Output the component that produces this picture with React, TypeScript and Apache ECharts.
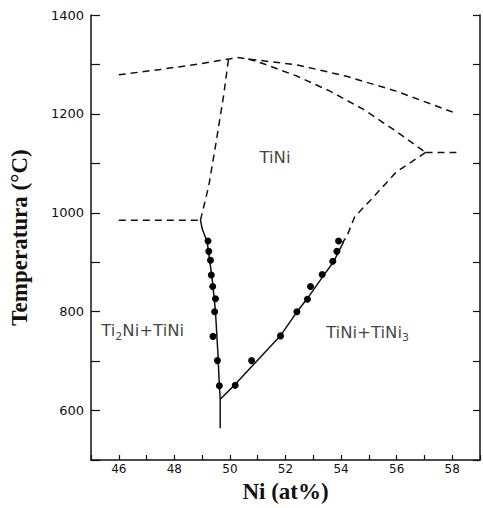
import React, { useEffect, useRef } from "react";
import * as echarts from "echarts";

// Liquidus (upper dashed curve)
const liquidus: [number, number][] = [
  [46, 1279], [47.5, 1290], [48.9, 1301], [49.95, 1311], [50.3, 1314],
  [50.66, 1311], [52.43, 1299], [54.2, 1276], [55.98, 1246], [58.1, 1202],
];
// Solidus of TiNi on Ni-rich side (dashed)
const solidusRight: [number, number][] = [
  [50.66, 1311], [51.13, 1303], [52.43, 1276], [53.6, 1246], [54.81, 1209],
  [55.98, 1165], [57.04, 1122],
];
// Eutectic horizontal at right
const eutecticRight: [number, number][] = [[57.04, 1122], [58.15, 1122]];
// Ni-rich solvus, dashed part
const solvusRightDashed: [number, number][] = [
  [57.04, 1122], [55.98, 1082], [55.1, 1028], [54.49, 992], [54.2, 951], [54.05, 940],
];
// Ni-rich solvus, solid part
const solvusRightSolid: [number, number][] = [
  [54.09, 941], [53.73, 901], [53.38, 874], [52.79, 827], [52.43, 801],
  [51.84, 753], [50.19, 653], [49.65, 623],
];
// Ti-rich solvus, solid
const solvusLeftSolid: [number, number][] = [
  [48.94, 985], [49.0, 968], [49.18, 941], [49.36, 867], [49.48, 800],
  [49.57, 713], [49.62, 650], [49.65, 623], [49.65, 564],
];
// Eutectic horizontal at left (dashed)
const eutecticLeft: [number, number][] = [[46, 985], [48.94, 985]];
// Ti-rich solidus of TiNi (dashed)
const solidusLeft: [number, number][] = [
  [48.94, 985], [49.24, 1055], [49.48, 1135], [49.77, 1236], [49.95, 1311],
];
// Measured points
const pointsLeft: [number, number][] = [
  [49.21, 943], [49.24, 922], [49.3, 904], [49.33, 874], [49.38, 851],
  [49.48, 826], [49.45, 800], [49.39, 750], [49.55, 701], [49.62, 650],
];
const pointsRight: [number, number][] = [
  [53.91, 943], [53.85, 922], [53.7, 902], [53.32, 875], [52.9, 851],
  [52.79, 825], [52.41, 800], [51.82, 751], [50.78, 701], [50.19, 651],
];
// Phase region labels
const regionLabels: { value: [number, number]; text: string }[] = [
  { value: [51.62, 1112], text: "TiNi" },
  { value: [46.86, 761], text: "Ti{s|2}Ni+TiNi" },
  { value: [54.95, 758], text: "TiNi+TiNi{s|3}" },
];

const INK = "#111";

export default function App() {
  const ref = useRef<HTMLDivElement>(null);
  useEffect(() => {
    document.body.style.margin = "0";
    const chart = echarts.init(ref.current!, undefined, { renderer: "svg" });
    const dashed = { color: INK, width: 1.5, type: [7, 5] as any };
    const solid = { color: INK, width: 1.5, type: "solid" as any };
    const lineSeries = (data: [number, number][], style: any) => ({
      type: "line",
      data,
      showSymbol: false,
      symbol: "none",
      lineStyle: style,
      silent: true,
      z: 2,
    });
    chart.setOption({
      animation: false,
      backgroundColor: "#fff",
      grid: { left: 90, top: 15, right: -2, bottom: 46 },
      xAxis: {
        type: "value",
        min: 45,
        max: 59,
        interval: 1,
        name: "Ni (at%)",
        nameLocation: "middle",
        nameGap: 20,
        nameTextStyle: {
          fontFamily: "Liberation Serif",
          fontWeight: "bold",
          fontSize: 23,
          color: INK,
        },
        axisLine: { lineStyle: { color: INK, width: 1.5 } },
        axisTick: { inside: true, length: 5, lineStyle: { color: INK, width: 1.2 } },
        splitLine: { show: false },
        axisLabel: {
          margin: 3,
          fontFamily: "DejaVu Sans",
          fontSize: 12,
          color: INK,
          formatter: (v: number) => (v % 2 === 0 && v >= 46 && v <= 58 ? String(v) : ""),
        },
      },
      yAxis: [
        {
          type: "value",
          min: 500,
          max: 1400,
          interval: 100,
          name: "Temperatura (°C)",
          nameLocation: "middle",
          nameGap: 60,
          nameTextStyle: {
            fontFamily: "Liberation Serif",
            fontWeight: "bold",
            fontSize: 23,
            color: INK,
          },
          axisLine: { show: true, lineStyle: { color: INK, width: 1.5 } },
          axisTick: { show: true, inside: true, length: 9, lineStyle: { color: INK, width: 1.2 } },
          splitLine: { show: false },
          axisLabel: {
            margin: 7,
            fontFamily: "DejaVu Sans",
            fontSize: 13,
            color: INK,
            formatter: (v: number) => (v % 200 === 0 && v >= 600 ? String(v) : ""),
          },
        },
        {
          type: "value",
          position: "right",
          min: 500,
          max: 1400,
          interval: 100,
          axisLine: { show: true, lineStyle: { color: INK, width: 1.5 } },
          axisTick: { show: true, inside: true, length: 7, lineStyle: { color: INK, width: 1.2 } },
          axisLabel: { show: false },
          splitLine: { show: false },
        },
      ],
      series: [
        lineSeries(liquidus, dashed),
        lineSeries(solidusRight, dashed),
        lineSeries(eutecticRight, dashed),
        lineSeries(solvusRightDashed, dashed),
        lineSeries(solvusRightSolid, solid),
        lineSeries(solvusLeftSolid, solid),
        lineSeries(eutecticLeft, dashed),
        lineSeries(solidusLeft, dashed),
        {
          type: "scatter",
          data: [...pointsLeft, ...pointsRight],
          symbol: "circle",
          symbolSize: 7,
          itemStyle: { color: "#000", opacity: 1 },
          z: 3,
        },
        {
          type: "scatter",
          data: regionLabels.map((d) => ({ value: d.value, text: d.text })),
          symbolSize: 0,
          itemStyle: { color: "transparent" },
          label: {
            show: true,
            position: "inside",
            formatter: (p: any) => p.data.text,
            fontFamily: "DejaVu Sans",
            fontSize: 16.5,
            lineHeight: 22,
            color: INK,
            rich: {
              s: {
                fontFamily: "DejaVu Sans",
                fontSize: 11,
                lineHeight: 13,
                verticalAlign: "bottom",
                color: INK,
              },
            },
          },
          z: 4,
        },
      ],
    });
    return () => chart.dispose();
  }, []);
  return <div ref={ref} style={{ width: 483, height: 508 }} />;
}
